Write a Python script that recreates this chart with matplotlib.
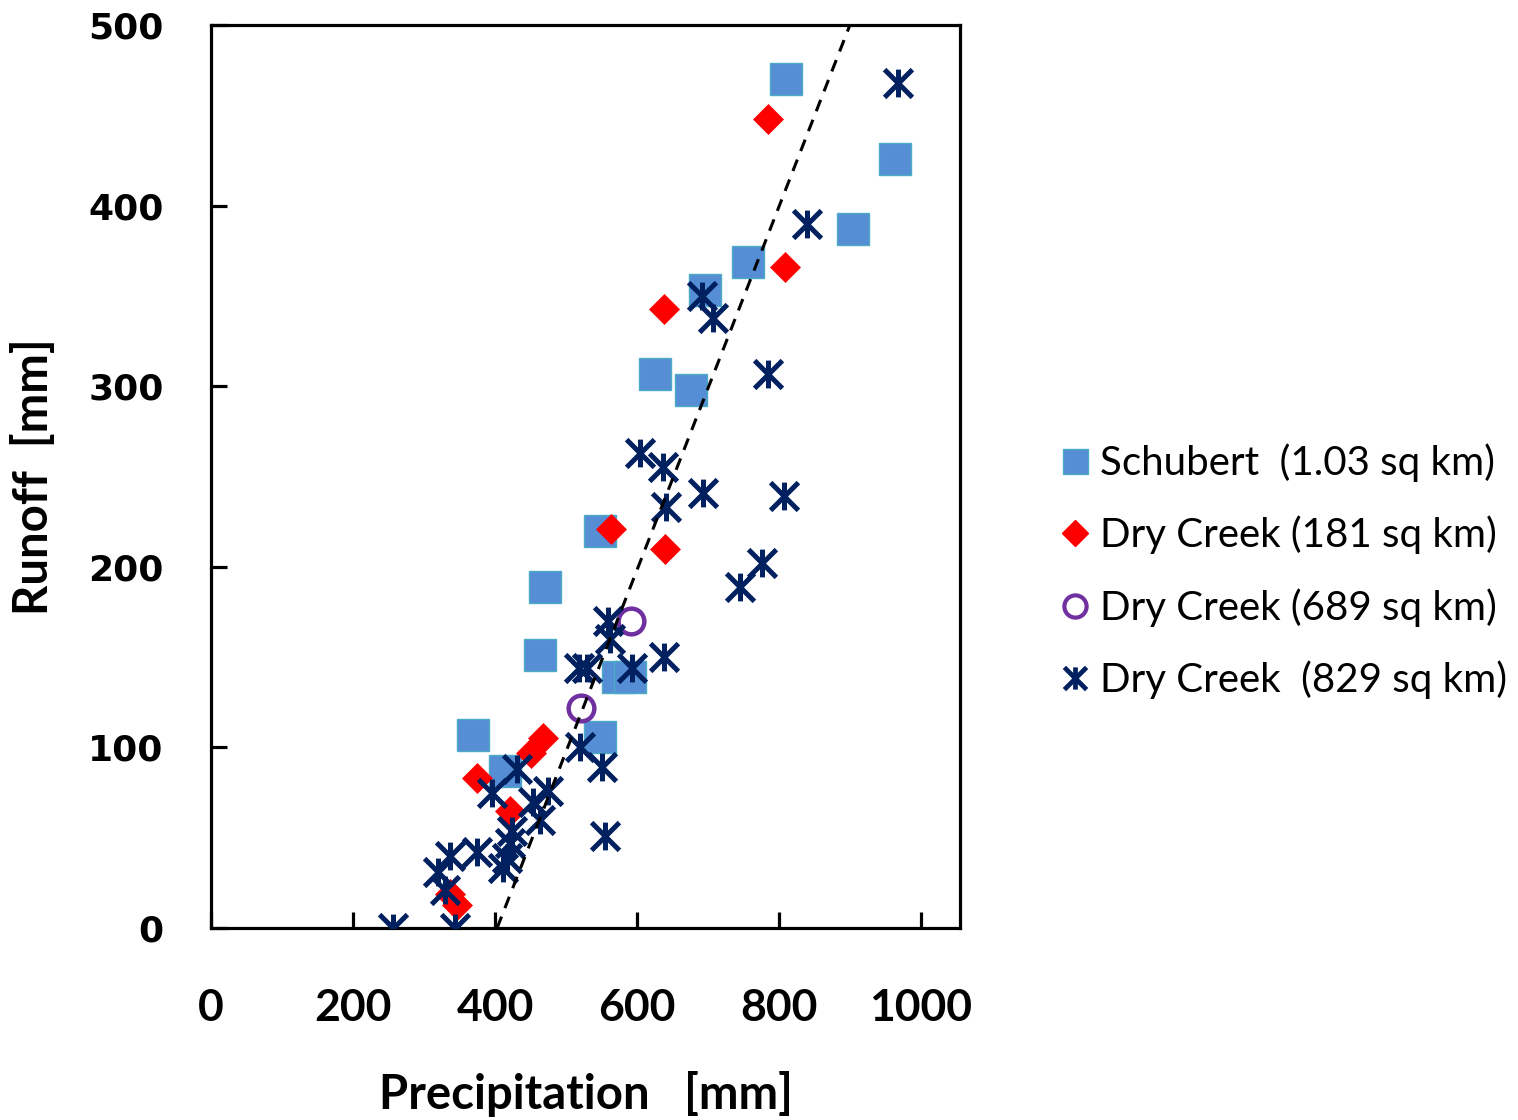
import matplotlib
matplotlib.use("Agg")
import matplotlib.pyplot as plt
from matplotlib.path import Path
from matplotlib.lines import Line2D

# --- data ---
schubert_p = [810, 963, 904, 756, 696, 625, 676, 548, 470, 463, 573, 590, 548, 369, 414]
schubert_q = [470, 426, 387, 369, 353, 307, 298, 220, 189, 151, 139, 139, 106, 107, 87]

dc181_p = [784, 808, 638, 563, 639, 468, 451, 375, 421, 337, 346]
dc181_q = [448, 366, 343, 221, 210, 105, 97, 83, 65, 19, 13]

dc689_p = [592, 521]
dc689_q = [170, 122]

dc829_p = [968, 839, 691, 707, 785, 604, 637, 641, 693, 807, 776, 745, 638,
           559, 562, 518, 530, 593, 520, 551, 555,
           431, 396, 475, 454, 463, 424, 421, 417, 411, 375, 337, 320, 330, 256, 344]
dc829_q = [468, 390, 350, 338, 307, 263, 255, 233, 241, 239, 202, 189, 150,
           170, 160, 144, 144, 144, 100, 89, 51,
           88, 75, 76, 70, 60, 54, 47, 39, 33, 42, 40, 31, 21, 0, 0]

fit_p = [403, 900]
fit_q = [0, 500]

labels = ["Schubert  (1.03 sq km)", "Dry Creek (181 sq km)",
          "Dry Creek (689 sq km)", "Dry Creek  (829 sq km)"]

font = "Lato"

# star marker like Excel: X plus vertical bar
star = Path([(0, -1), (0, 1), (-1, -1), (1, 1), (-1, 1), (1, -1)],
            [Path.MOVETO, Path.LINETO] * 3)

sq_face, sq_edge = "#558ED5", "#4BACC6"
navy = "#002060"
purple = "#7030A0"

fig = plt.figure(figsize=(15.18, 11.2), dpi=100)
ax = fig.add_axes([0.139, 0.1714, 0.4934, 0.8063])

ax.plot(schubert_p, schubert_q, ls="none", marker="s", ms=22.5,
        mfc=sq_face, mec=sq_edge, mew=1, zorder=2)
ax.plot(dc181_p, dc181_q, ls="none", marker="D", ms=15.5,
        mfc="#FF0000", mec="#FF0000", mew=0.5, zorder=3)
ax.plot(dc689_p, dc689_q, ls="none", marker="o", ms=18.5,
        mfc="none", mec=purple, mew=3.2, zorder=4)
ax.plot(dc829_p, dc829_q, ls="none", marker=star, ms=20,
        mec=navy, mew=3.6, zorder=5)
ax.plot(fit_p, fit_q, color="black", lw=2.2, ls=(0, (4, 3)), zorder=6)

ax.set_xlim(0, 1055)
ax.set_ylim(0, 500)
ax.set_xticks([0, 200, 400, 600, 800, 1000])
ax.set_yticks([0, 100, 200, 300, 400, 500])

for s in ax.spines.values():
    s.set_linewidth(2.3)
ax.tick_params(direction="in", length=11.5, width=2.3)
ax.tick_params(axis="x", pad=43)
ax.tick_params(axis="y", pad=34)
for t in ax.get_xticklabels():
    t.set_fontfamily(font)
    t.set_fontweight("bold")
    t.set_fontsize(32)
for t in ax.get_yticklabels():
    t.set_fontfamily("DejaVu Sans")
    t.set_fontweight("bold")
    t.set_fontsize(26)

ax.set_xlabel("Precipitation   [mm]", fontfamily=font, fontweight="bold", fontsize=34)
ax.set_ylabel("Runoff  [mm]", fontfamily=font, fontweight="bold", fontsize=34)
ax.xaxis.set_label_coords(0.5, -0.158)
ax.yaxis.set_label_coords(-0.207, 0.5)

handles = [
    Line2D([], [], ls="none", marker="s", ms=18, mfc=sq_face, mec=sq_edge, mew=1),
    Line2D([], [], ls="none", marker="D", ms=13.5, mfc="#FF0000", mec="#FF0000"),
    Line2D([], [], ls="none", marker="o", ms=16, mfc="none", mec=purple, mew=3),
    Line2D([], [], ls="none", marker=star, ms=16, mec=navy, mew=3.4),
]
ax.legend(handles, labels, loc="center left", bbox_to_anchor=(1.138, 0.395),
          frameon=False, borderpad=0, borderaxespad=0, handlelength=0.6,
          handletextpad=0.3, labelspacing=0.84,
          prop={"family": font, "size": 29})

fig.savefig("out.png", dpi=100)
